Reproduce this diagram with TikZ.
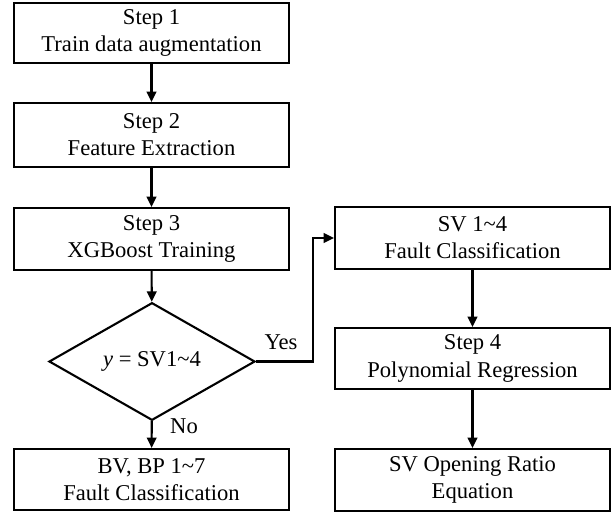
\documentclass[tikz,border=0pt]{standalone}
\usepackage{fontspec}
\setmainfont{Liberation Serif}
\usetikzlibrary{shapes.geometric,arrows.meta}
\begin{document}
\begin{tikzpicture}[x=0.5pt,y=-0.5pt,
  every node/.style={font=\fontsize{11.3pt}{13.6pt}\selectfont},
  stepbox/.style={draw,line width=1.05pt,minimum width=137.5pt,minimum height=31pt,align=center,inner sep=0pt},
  decide/.style={draw,line width=1.05pt,diamond,minimum width=103pt,minimum height=50.5pt,inner sep=0pt},
  arr/.style={line width=1.05pt,-{Triangle[length=5.2pt,width=4.8pt]}},
  lbl/.style={inner sep=0pt}]
\useasboundingbox (0,0) rectangle (613,514);
\node[stepbox,minimum height=30pt] (b1) at (151.5,33) {Step 1\\Train data augmentation};
\node[stepbox,minimum height=32pt] (b2) at (151.5,135) {Step 2\\Feature Extraction};
\node[stepbox] (b3) at (151.5,239) {Step 3\\XGBoost Training};
\node[decide] (dia) at (152,361.5) {\textit{y} = SV1\textasciitilde4};
\node[stepbox,minimum height=30.5pt] (b5) at (151.5,479.5) {BV, BP 1\textasciitilde7\\Fault Classification};
\node[stepbox] (s1) at (472.5,238) {SV 1\textasciitilde4\\Fault Classification};
\node[stepbox,minimum height=30.5pt] (s2) at (472.5,358.5) {Step 4\\Polynomial Regression};
\node[stepbox] (s3) at (472.5,480) {SV Opening Ratio\\Equation};
\coordinate (ybend) at (313,361.5);
\draw[arr] (b1) -- (b2);
\draw[arr] (b2) -- (b3);
\draw[arr] (b3) -- (dia);
\draw[arr] (dia) -- (b5);
\draw[arr] (dia.east) -- (ybend) |- (s1.west);
\draw[arr] (s1) -- (s2);
\draw[arr] (s2) -- (s3);
\node[lbl] (yes) at (281,342) {Yes};
\node[lbl] (no) at (184,426) {No};
\end{tikzpicture}
\end{document}
